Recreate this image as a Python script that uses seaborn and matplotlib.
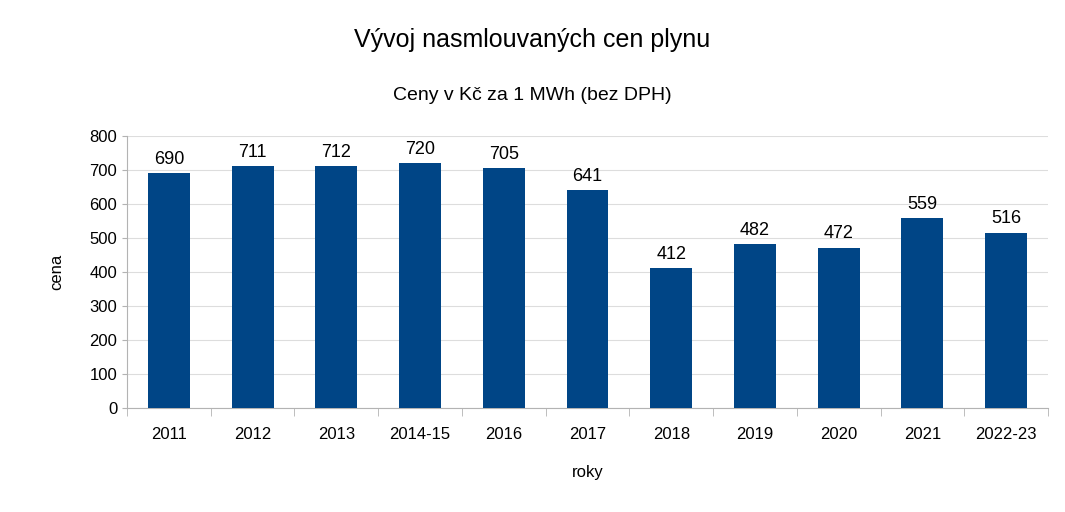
import matplotlib
matplotlib.use("Agg")
import matplotlib.pyplot as plt
import seaborn as sns
import pandas as pd
import numpy as np

years = ["2011", "2012", "2013", "2014-15", "2016", "2017", "2018", "2019", "2020", "2021", "2022-23"]
prices = [690, 711, 712, 720, 705, 641, 412, 482, 472, 559, 516]
yticks = [0, 100, 200, 300, 400, 500, 600, 700, 800]

plt.rcParams["font.family"] = "Liberation Sans"
df = pd.DataFrame({"roky": years, "cena": prices})

fig = plt.figure(figsize=(10.65, 5.12), dpi=100)
ax = fig.add_axes([127/1065, 1-408/512, (1048-127)/1065, (408-136)/512])
sns.barplot(data=df, x="roky", y="cena", color="#004586", width=0.5, saturation=1, ax=ax, zorder=3)
for i, v in enumerate(prices):
    ax.text(i, v + 15, str(v), ha="center", va="bottom", fontsize=13)
ax.set_ylim(0, 800)
ax.set_yticks(yticks)
ax.set_xlim(-0.5, len(years) - 0.5)
ax.grid(axis="y", color="#dddddd", linewidth=0.8, zorder=0)
for s in ["top", "right"]:
    ax.spines[s].set_visible(False)
for s in ["left", "bottom"]:
    ax.spines[s].set_color("#b3b3b3")
ax.tick_params(axis="both", labelsize=12, colors="#b3b3b3", labelcolor="black")
ax.tick_params(axis="x", length=0, pad=14)
ax.set_xticks(np.arange(-0.5, len(years)), minor=True)
ax.tick_params(axis="x", which="minor", length=6, color="#b3b3b3")
ax.set_xlabel("roky", fontsize=12, labelpad=16)
ax.set_ylabel("cena", fontsize=12, labelpad=18)
fig.text(0.5, 1-40/512, "Vývoj nasmlouvaných cen plynu", ha="center", va="center", fontsize=18)
fig.text(0.5, 1-96/512, "Ceny v Kč za 1 MWh (bez DPH)", ha="center", va="center", fontsize=14)
fig.savefig("out.png", dpi=100)
